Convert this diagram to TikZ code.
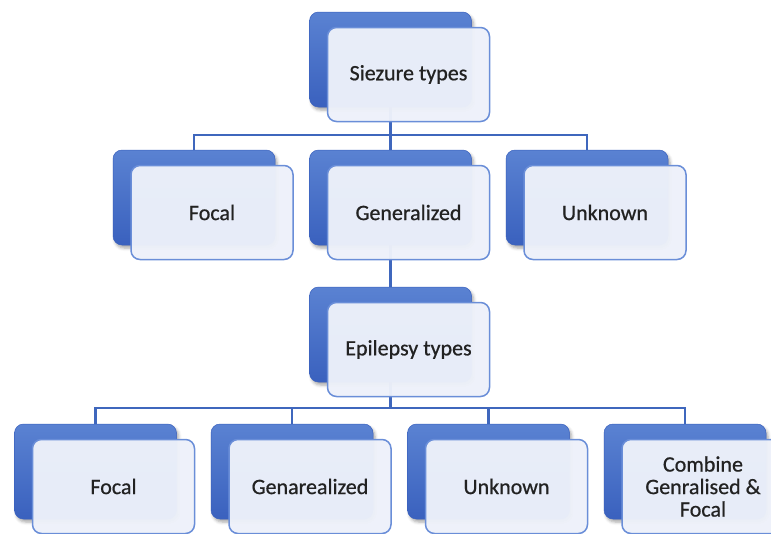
\documentclass[tikz,border=0pt]{standalone}
\usepackage{fontspec}
\setmainfont{Carlito}
\newfontfamily\boxfont[FakeBold=0.7]{Carlito}
\usetikzlibrary{shadows.blur,backgrounds}
\definecolor{bluetop}{HTML}{5A82D2}
\definecolor{bluebot}{HTML}{3A61BE}
\definecolor{frontfill}{HTML}{EDF1FA}
\definecolor{frontline}{HTML}{6A8ED8}
\definecolor{conncol}{HTML}{3F67BD}
\definecolor{textcol}{HTML}{222222}
\begin{document}
\begin{tikzpicture}[x=1pt,y=-1pt,
  backbox/.style={rectangle, rounded corners=9pt, minimum width=162pt, minimum height=95pt,
    inner sep=0pt, outer sep=0pt, top color=bluetop, bottom color=bluebot, draw=bluebot, line width=0.5pt,
    blur shadow={shadow xshift=2pt, shadow yshift=-3pt, shadow blur radius=3pt, shadow opacity=35}},
  frontbox/.style={rectangle, rounded corners=9pt, minimum width=162pt, minimum height=94pt,
    inner sep=2pt, outer sep=0pt, fill=frontfill, fill opacity=0.97, text opacity=1,
    draw=frontline, line width=1.5pt, text=textcol, align=center,
    font=\boxfont\fontsize{22}{22.5}\selectfont},
  conn/.style={draw=conncol, line width=2.2pt}]
\useasboundingbox (0,0) rectangle (771,533);
\clip (0,0) rectangle (771,533);

% level 1
\node[backbox] (s0) at (390.5,59.5) {};
\node[frontbox] (t0) at (408.5,74.5) {Siezure types};

% level 2
\node[backbox] (s1) at (194,197.5) {};
\node[frontbox] (t1) at (212,212.5) {Focal};
\node[backbox] (s2) at (390.5,197.5) {};
\node[frontbox] (t2) at (408.5,212.5) {Generalized};
\node[backbox] (s3) at (587,197.5) {};
\node[frontbox] (t3) at (605,212.5) {Unknown};

% level 3
\node[backbox] (e0) at (390.5,334.5) {};
\node[frontbox] (u0) at (408.5,349.5) {Epilepsy types};

% level 4
\node[backbox] (e1) at (95.5,471.5) {};
\node[frontbox] (u1) at (113.5,486.5) {Focal};
\node[backbox] (e2) at (292,471.5) {};
\node[frontbox] (u2) at (310,486.5) {Genarealized};
\node[backbox] (e3) at (488.5,471.5) {};
\node[frontbox] (u3) at (506.5,486.5) {Unknown};
\node[backbox] (e4) at (685,471.5) {};
\node[frontbox] (u4) at (703,486.5) {Combine\\Genralised \&\\Focal};

\coordinate (bus1) at (0,135);
\coordinate (bus2) at (0,408);

\begin{pgfonlayer}{background}
  \draw[conn] (s0.south) -- (s0.south |- bus1) -| (s1.north);
  \draw[conn] (s0.south |- bus1) -| (s2.north);
  \draw[conn] (s0.south |- bus1) -| (s3.north);
  \draw[conn] (s2.south) -- (e0.north);
  \draw[conn] (e0.south) -- (e0.south |- bus2) -| (e1.north);
  \draw[conn] (e0.south |- bus2) -| (e2.north);
  \draw[conn] (e0.south |- bus2) -| (e3.north);
  \draw[conn] (e0.south |- bus2) -| (e4.north);
\end{pgfonlayer}
\end{tikzpicture}
\end{document}
